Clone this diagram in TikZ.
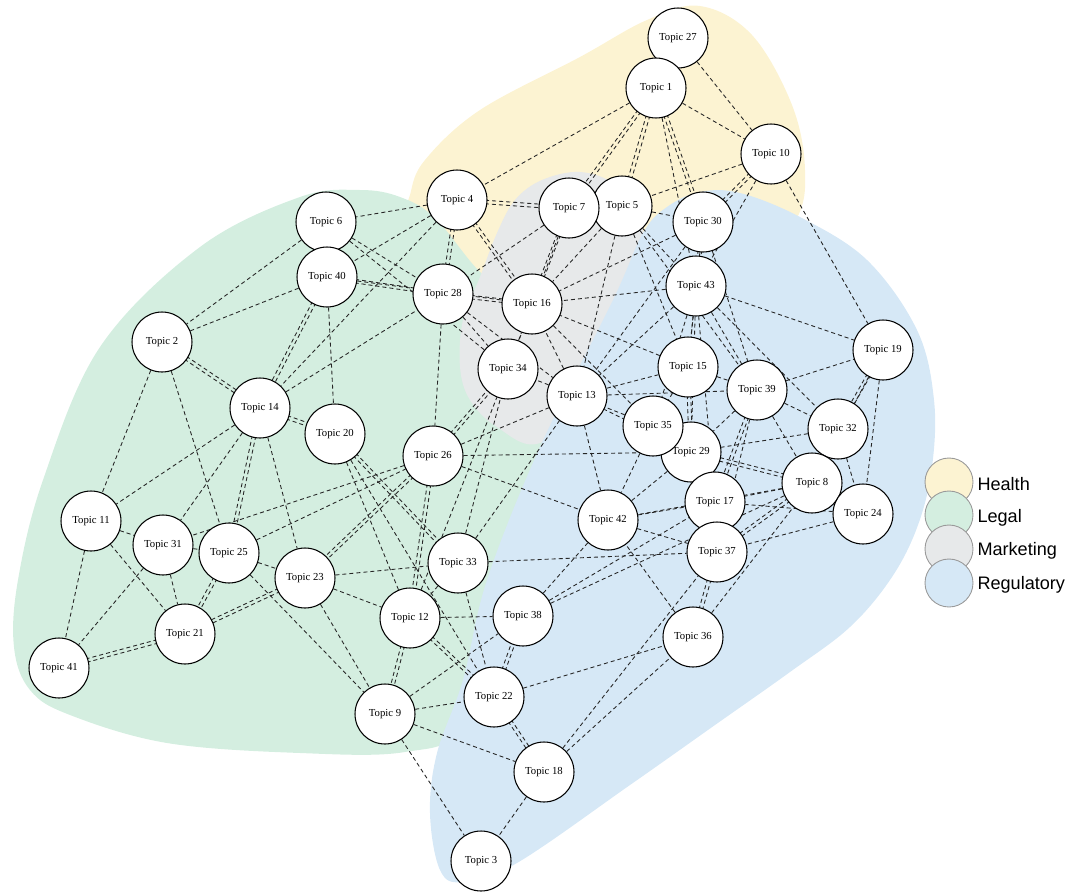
\documentclass[tikz,border=0pt]{standalone}
\usepackage{fontspec}
\setmainfont{Liberation Serif}
\newfontfamily\legendfont{Liberation Sans}
\usepackage{tikz}
\usetikzlibrary{positioning}
\usetikzlibrary{calc, shapes, backgrounds}
\definecolor{health}{RGB}{252,243,210}
\definecolor{legal}{RGB}{212,238,224}
\definecolor{marketing}{RGB}{231,233,234}
\definecolor{regulatory}{RGB}{214,232,246}
\tikzstyle{link} = [black!85, line width=0.5pt, dash pattern=on 2.3pt off 1.7pt]
\tikzstyle{legendbox} = [circle, draw=black!40, line width=0.5pt, minimum size=0.96cm]
\pgfdeclarelayer{regions}
\pgfsetlayers{regions,background,main}

\begin{document}
\begin{tikzpicture}[
    x = 0.02cm, y = -0.02cm,
    every node/.style = {draw, circle, fill = white, line width = 0.6pt,
                         minimum size = 1.2cm, inner sep = 0mm,
                         font = \fontsize{6.1}{7}\selectfont}
  ]
  \useasboundingbox (0,0) rectangle (1069,896);

  % Topics
  \node (27) at (678,38)  {Topic 27};
  \node (1)  at (656,88)  {Topic 1};
  \node (10) at (771,154) {Topic 10};
  \node (4)  at (457,200) {Topic 4};
  \node (5)  at (622,206) {Topic 5};
  \node (7)  at (569,208) {Topic 7};
  \node (30) at (703,222) {Topic 30};
  \node (6)  at (326,222) {Topic 6};
  \node (40) at (327,277) {Topic 40};
  \node (28) at (443,294) {Topic 28};
  \node (16) at (532,304) {Topic 16};
  \node (43) at (696,286) {Topic 43};
  \node (19) at (883,350) {Topic 19};
  \node (2)  at (162,342) {Topic 2};
  \node (34) at (508,369) {Topic 34};
  \node (13) at (577,396) {Topic 13};
  \node (15) at (688,367) {Topic 15};
  \node (39) at (757,390) {Topic 39};
  \node (14) at (260,408) {Topic 14};
  \node (20) at (335,434) {Topic 20};
  \node (29) at (691,452) {Topic 29};
  \node (35) at (653,426) {Topic 35};
  \node (32) at (838,429) {Topic 32};
  \node (26) at (433,456) {Topic 26};
  \node (8)  at (812,483) {Topic 8};
  \node (24) at (863,514) {Topic 24};
  \node (17) at (715,502) {Topic 17};
  \node (42) at (608,520) {Topic 42};
  \node (11) at (91,521)  {Topic 11};
  \node (31) at (163,545) {Topic 31};
  \node (25) at (229,553) {Topic 25};
  \node (37) at (717,552) {Topic 37};
  \node (23) at (305,578) {Topic 23};
  \node (33) at (458,563) {Topic 33};
  \node (38) at (523,616) {Topic 38};
  \node (12) at (410,618) {Topic 12};
  \node (21) at (185,634) {Topic 21};
  \node (36) at (693,637) {Topic 36};
  \node (41) at (59,668)  {Topic 41};
  \node (9)  at (385,714) {Topic 9};
  \node (22) at (494,697) {Topic 22};
  \node (18) at (544,772) {Topic 18};
  \node (3)  at (481,861) {Topic 3};

  % Links
  \begin{scope}[on background layer]
    \foreach \a/\b in {27/1, 27/10, 1/4, 1/10, 1/43, 10/5, 10/43, 10/19, 4/6, 4/40,
        4/14, 5/30, 5/16, 5/13, 5/43, 5/15, 5/39, 7/28, 7/34, 30/16, 30/13, 30/39,
        30/15, 6/40, 6/28, 6/2, 6/34, 40/2, 40/20, 40/16, 2/11, 2/25, 14/11, 14/31,
        14/23, 14/28, 11/31, 11/21, 11/41, 31/25, 31/21, 31/41, 25/23, 25/26, 25/9,
        23/12, 23/9, 23/33, 28/26, 28/34, 28/13, 20/12, 20/22, 26/13, 26/29, 26/42,
        26/31, 33/22, 33/12, 33/13, 33/34, 33/37, 12/38, 12/34, 9/22, 9/18, 9/3,
        9/38, 22/36, 18/3, 18/37, 18/36, 38/42, 38/17, 38/8, 36/42, 36/8, 43/15,
        43/39, 43/35, 43/29, 43/17, 43/32, 43/19, 43/13, 43/16, 15/35, 15/39, 15/13,
        15/16, 39/32, 39/8, 39/19, 39/29, 39/37, 19/24, 19/8, 32/8, 32/24, 32/29,
        8/24, 8/17, 8/42, 24/37, 24/17, 17/35, 35/29, 35/42, 35/13, 29/42, 29/37,
        29/13, 13/42, 13/34, 13/16, 13/39, 34/16, 42/17, 42/37, 16/35}
      \draw[link] (\a) -- (\b);
    % doubled links
    \foreach \a/\b in {1/7, 1/5, 1/30, 4/7, 4/28, 4/16, 10/30, 30/43, 40/14, 40/28,
        2/14, 14/20, 14/25, 25/21, 23/21, 21/41, 26/34, 26/12, 26/23, 12/9, 12/22,
        22/18, 22/38, 36/37, 19/32, 39/17, 8/37, 8/29, 20/33, 15/29, 7/16, 28/16} {
      \draw[link] ($(\a)!1pt!90:(\b)$) -- ($(\b)!1pt!-90:(\a)$);
      \draw[link] ($(\a)!1pt!-90:(\b)$) -- ($(\b)!1pt!90:(\a)$);
    }
  \end{scope}

  % Regions
  \begin{pgfonlayer}{regions}
    \fill[health] plot[smooth cycle, tension=0.6] coordinates {
      (405,235) (410,195) (425,160) (480,110) (580,57) (647,20) (700,6) (752,35)
      (792,105) (805,170) (795,222) (740,290) (600,300) (480,285)};
    \fill[legal] plot[smooth cycle, tension=0.6] coordinates {
      (360,190) (300,197) (200,247) (100,347) (43,480) (18,580) (14,647) (30,690)
      (70,715) (167,743) (300,753) (405,752) (465,725) (520,600) (560,420)
      (520,300) (480,272) (435,218) (400,197)};
    \fill[marketing] plot[smooth cycle, tension=0.6] coordinates {
      (480,277) (497,233) (515,200) (542,180) (580,172) (615,185) (640,222)
      (650,290) (600,390) (540,443) (497,427) (470,400) (460,367) (463,320)};
    \fill[regulatory] plot[smooth cycle, tension=0.6] coordinates {
      (613,300) (643,233) (667,207) (700,192) (740,193) (800,217) (867,260)
      (917,330) (934,400) (932,467) (918,525) (892,577) (850,627) (790,672)
      (715,725) (630,785) (517,863) (463,882) (440,870) (430,813) (437,753)
      (463,680) (487,580) (540,447)};
  \end{pgfonlayer}

  % Legend
  \begin{scope}[nodes = {legendbox}]
    \node[fill = health]     (hl) at (949,482) {};
    \node[fill = legal]      (lg) at (949,515) {};
    \node[fill = marketing]  (mk) at (949,549) {};
    \node[fill = regulatory] (rg) at (949,583) {};
  \end{scope}
  \begin{scope}[nodes = {draw = none, fill = none, shape = rectangle, minimum size = 0pt,
                         inner sep = 0pt, anchor = west, font = \legendfont\fontsize{10.3}{12}\selectfont}]
    \node (hltext) at (977,484) {Health};
    \node (lgtext) at (977,518) {Legal};
    \node (mktext) at (977,551) {Marketing};
    \node (rgtext) at (977,585) {Regulatory};
  \end{scope}
\end{tikzpicture}
\end{document}
